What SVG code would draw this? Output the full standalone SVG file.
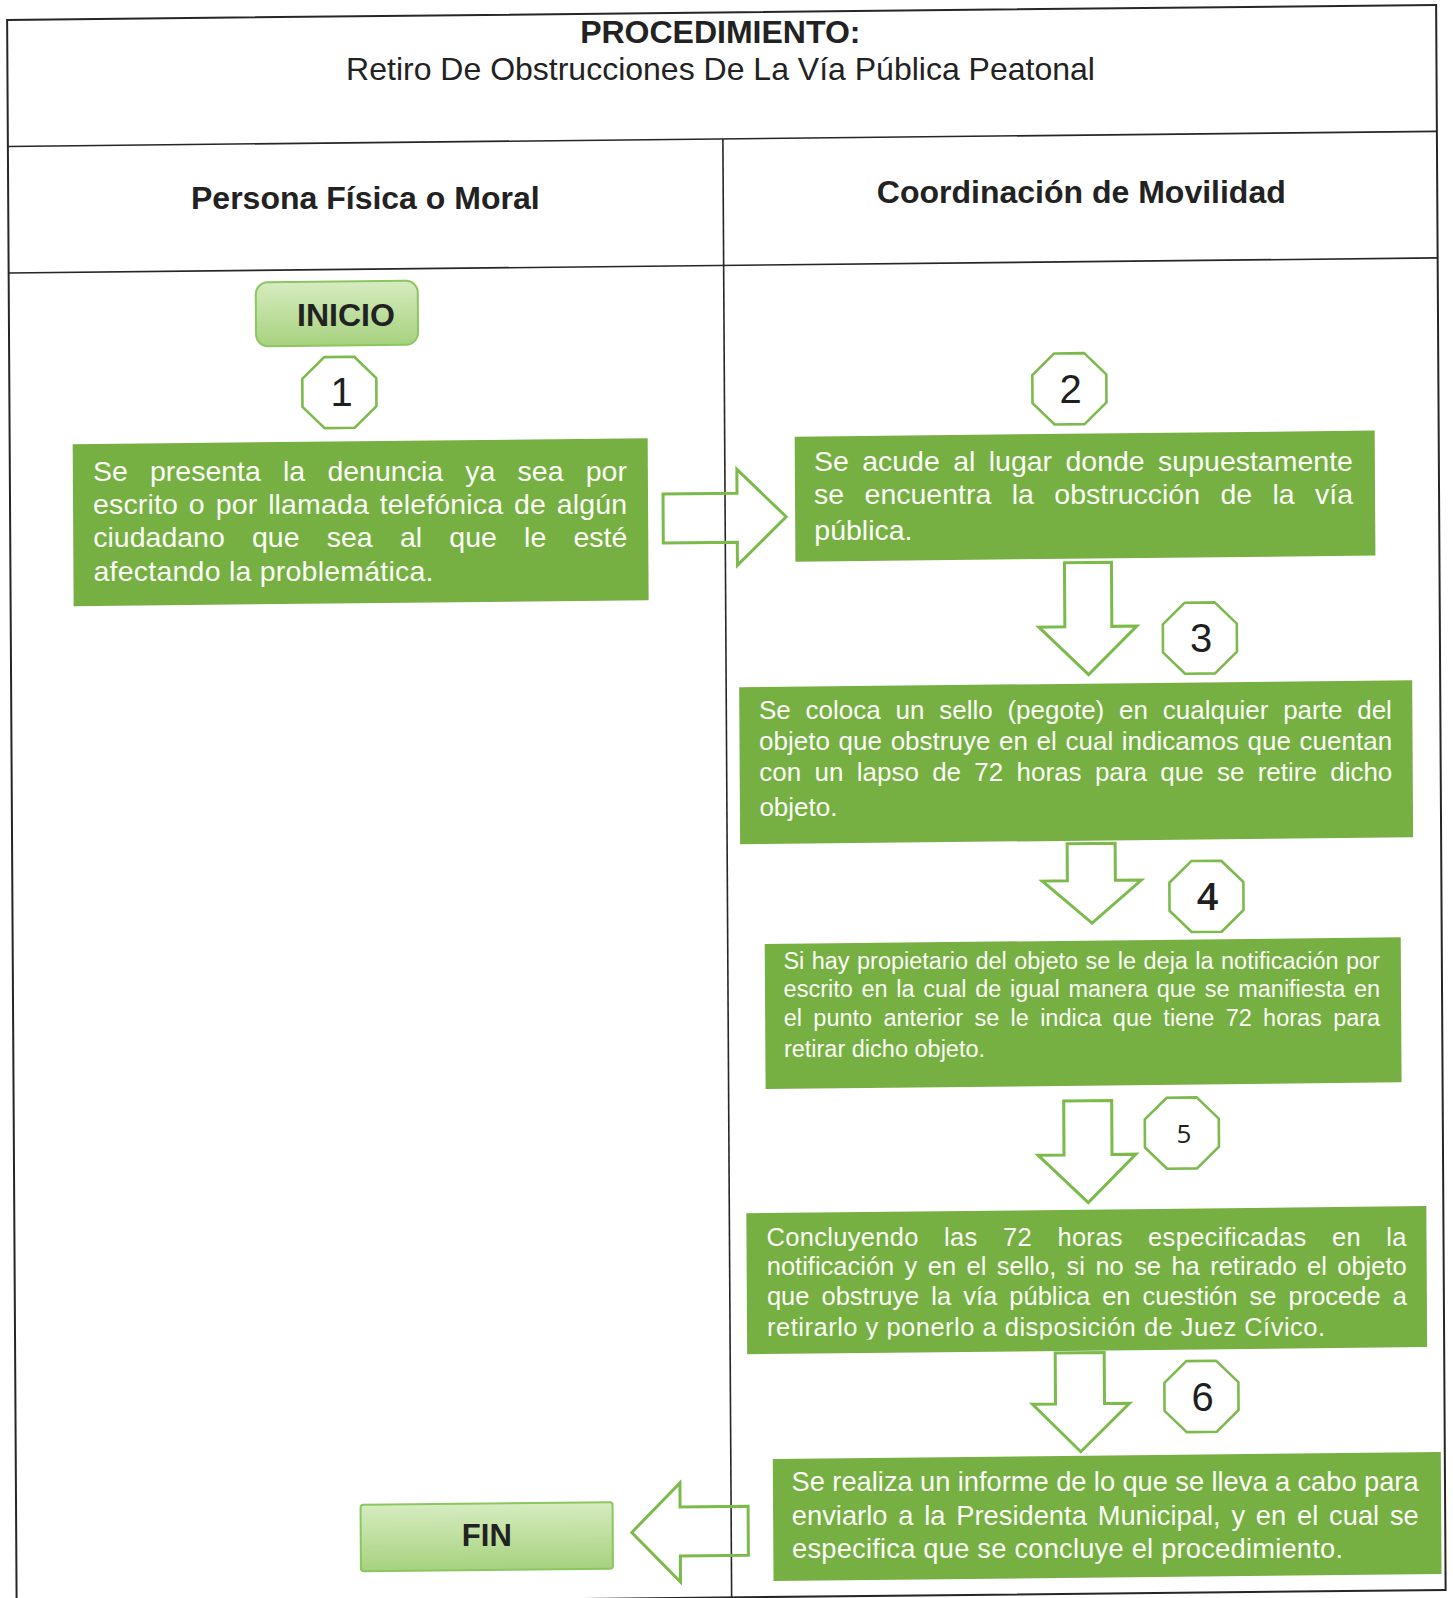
<svg xmlns="http://www.w3.org/2000/svg" width="1453" height="1598" viewBox="0 0 1453 1598">
<defs>
<style>
.frame{fill:none;stroke:#262626;stroke-width:2}
.div{stroke:#262626;stroke-width:1.6}
.hdr{font-family:"Liberation Sans",Arial,sans-serif;font-weight:bold;font-size:32px;fill:#222;text-anchor:middle}
.ttl{font-family:"Liberation Sans",Arial,sans-serif;font-size:32px;fill:#222;text-anchor:middle}
.box{fill:#76b043}
.bt{font-family:"Liberation Sans",Arial,sans-serif;fill:#fbfdf6}
.oct{fill:#fff;stroke:#7cba4e;stroke-width:2.6;stroke-linejoin:round}
.num{font-family:"Liberation Sans",Arial,sans-serif;font-size:40px;fill:#1f1f1f;text-anchor:middle}
.arrow{fill:none;stroke:#7cba4c;stroke-width:3;stroke-linejoin:miter}
.term{fill:url(#termGrad);stroke:#8cc660;stroke-width:2}
</style>
<linearGradient id="termGrad" x1="0" y1="0" x2="0" y2="1">
<stop offset="0" stop-color="#d6ecc0"/>
<stop offset="1" stop-color="#a6d27e"/>
</linearGradient>
<polygon id="oct" points="-15,-35.5 15,-35.5 37,-14 37,14 15,35.5 -15,35.5 -37,14 -37,-14"/>
<clipPath id="clip5"><rect x="739" y="1200" width="700" height="139.5"/></clipPath>
</defs>
<rect width="1453" height="1598" fill="#ffffff"/>
<g id="diagram">
<g id="frame" transform="matrix(1,-0.0105,0.006,1,0,0)">
<rect class="frame" x="7" y="20" width="1429" height="1585"/>
<line class="div" x1="7" y1="146.5" x2="1436" y2="146.5"/>
<line class="div" x1="7" y1="273" x2="1436" y2="273"/>
<line class="div" x1="722" y1="146.5" x2="722" y2="1605"/>
</g>
<g id="title">
<text class="hdr" x="720.3" y="43.4">PROCEDIMIENTO:</text>
<text class="ttl" x="720.5" y="80.4">Retiro De Obstrucciones De La Vía Pública Peatonal</text>
</g>
<g id="lane-headers">
<text class="hdr" x="365.3" y="209.2">Persona Física o Moral</text>
<text class="hdr" x="1081.3" y="202.7">Coordinación de Movilidad</text>
</g>
<g id="inicio">
<rect class="term" x="254" y="285" width="162" height="64" rx="12" transform="matrix(1,-0.0105,0.006,1,0,0)"/>
<text class="hdr" x="346" y="326">INICIO</text>
</g>
<g id="step1-num"><use href="#oct" class="oct" transform="matrix(1,-0.0105,0.006,1,0,0) translate(337,396)"/><text class="num" x="341.5" y="406.4">1</text></g>
<g id="step1">
<rect class="box" x="70" y="445" width="575" height="162" transform="matrix(1,-0.0105,0.006,1,0,0)"/>
<g class="bt" font-size="28.5">
<text x="92.9" y="480.75" word-spacing="14.3" textLength="534">Se presenta la denuncia ya sea por</text>
<text x="93.1" y="513.95" word-spacing="2.8" textLength="534">escrito o por llamada telefónica de algún</text>
<text x="93.3" y="547.15" word-spacing="19.3" textLength="534">ciudadano que sea al que le esté</text>
<text x="93.5" y="581.4" textLength="340">afectando la problemática.</text>
</g>
</g>
<g id="step2-num"><use href="#oct" class="oct" transform="matrix(1,-0.0105,0.006,1,0,0) translate(1067,400)"/><text class="num" x="1070.5" y="402.8">2</text></g>
<g id="step2">
<rect class="box" x="792" y="445" width="580" height="125" transform="matrix(1,-0.0105,0.006,1,0,0)"/>
<g class="bt" font-size="28.5">
<text x="813.9" y="470.65" word-spacing="5.5" textLength="539">Se acude al lugar donde supuestamente</text>
<text x="814.1" y="504.15" word-spacing="12.5" textLength="539">se encuentra la obstrucción de la vía</text>
<text x="814.3" y="539.97">pública.</text>
</g>
</g>
<g id="step3-num"><use href="#oct" class="oct" transform="matrix(1,-0.0105,0.006,1,0,0) translate(1196,650.6)"/><text class="num" x="1201" y="652">3</text></g>
<g id="step3">
<rect class="box" x="735" y="695" width="673" height="157" transform="matrix(1,-0.0105,0.006,1,0,0)"/>
<g class="bt" font-size="26">
<text x="758.9" y="718.75" word-spacing="7.6" textLength="633">Se coloca un sello (pegote) en cualquier parte del</text>
<text x="759.1" y="750.05" word-spacing="1.4" textLength="633">objeto que obstruye en el cual indicamos que cuentan</text>
<text x="759.3" y="781.35" word-spacing="6.1" textLength="633">con un lapso de 72 horas para que se retire dicho</text>
<text x="759.4" y="815.57">objeto.</text>
</g>
</g>
<g id="step4-num"><use href="#oct" class="oct" transform="matrix(1,-0.0105,0.006,1,0,0) translate(1201,909)"/><text class="num" x="1207.5" y="910.4" style="font-family:'Open Sans','Liberation Sans',sans-serif;font-weight:600;font-size:38px">4</text></g>
<g id="step4">
<rect class="box" x="759" y="952" width="636" height="145" transform="matrix(1,-0.0105,0.006,1,0,0)"/>
<g class="bt" font-size="23.5">
<text x="783.4" y="968.7" word-spacing="0.9" textLength="596.5">Si hay propietario del objeto se le deja la notificación por</text>
<text x="783.6" y="997.4" word-spacing="2.2" textLength="596.5">escrito en la cual de igual manera que se manifiesta en</text>
<text x="783.7" y="1026.1" word-spacing="4.8" textLength="596.5">el punto anterior se le indica que tiene 72 horas para</text>
<text x="783.9" y="1056.8">retirar dicho objeto.</text>
</g>
</g>
<g id="step5-num"><use href="#oct" class="oct" transform="matrix(1,-0.0105,0.006,1,0,0) translate(1175,1145.4)"/><text class="num" x="1183.9" y="1142.6" style="font-family:'Open Sans','Liberation Sans',sans-serif;font-size:26px">5</text></g>
<g id="step5">
<rect class="box" x="739" y="1221" width="680" height="141" transform="matrix(1,-0.0105,0.006,1,0,0)"/>
<g class="bt" font-size="25.5" clip-path="url(#clip5)">
<text x="766.5" y="1245.67" word-spacing="18" textLength="640">Concluyendo las 72 horas especificadas en la</text>
<text x="766.7" y="1275.47" word-spacing="3.3" textLength="640">notificación y en el sello, si no se ha retirado el objeto</text>
<text x="766.9" y="1305.27" word-spacing="5" textLength="640">que obstruye la vía pública en cuestión se procede a</text>
<text x="767.1" y="1335.5" textLength="558">retirarlo y ponerlo a disposición de Juez Cívico.</text>
</g>
</g>
<g id="step6-num"><use href="#oct" class="oct" transform="matrix(1,-0.0105,0.006,1,0,0) translate(1193,1409)"/><text class="num" x="1202.5" y="1410.5">6</text></g>
<g id="step6">
<rect class="box" x="764" y="1467" width="668" height="122" transform="matrix(1,-0.0105,0.006,1,0,0)"/>
<g class="bt" font-size="27.3">
<text x="791.6" y="1491.2" word-spacing="-0.25" textLength="627">Se realiza un informe de lo que se lleva a cabo para</text>
<text x="791.8" y="1524.5" word-spacing="3.2" textLength="627">enviarlo a la Presidenta Municipal, y en el cual se</text>
<text x="792" y="1558.3" textLength="551">especifica que se concluye el procedimiento.</text>
</g>
</g>
<g id="fin">
<rect class="term" x="351.5" y="1508.5" width="252" height="66.5" rx="3" transform="matrix(1,-0.0105,0.006,1,0,0)"/>
<text class="hdr" x="486.8" y="1546" style="font-size:31px">FIN</text>
</g>
<g id="connectors" transform="matrix(1,-0.0105,0.006,1,0,0)">
<polygon class="arrow" points="660,501 734,501 734,477 783,525 734,573 734,550 660,550"/>
<polygon class="arrow" points="1061,574 1108,574 1108,638 1133,638 1084.5,686 1035,638 1061,638"/>
<polygon class="arrow" points="1062,855 1110,855 1110,892 1136,892 1086.5,934.5 1037,892 1062,892"/>
<polygon class="arrow" points="1057,1112 1105,1112 1105,1166 1129,1166 1081,1214 1031,1166 1057,1166"/>
<polygon class="arrow" points="1047,1364 1096,1364 1096,1415 1121,1415 1072,1463 1024,1415 1047,1415"/>
<polygon class="arrow" points="739,1514 671,1514 671,1490 622.5,1539 671,1589 671,1563 739,1563"/>
</g>
</g>
</svg>
